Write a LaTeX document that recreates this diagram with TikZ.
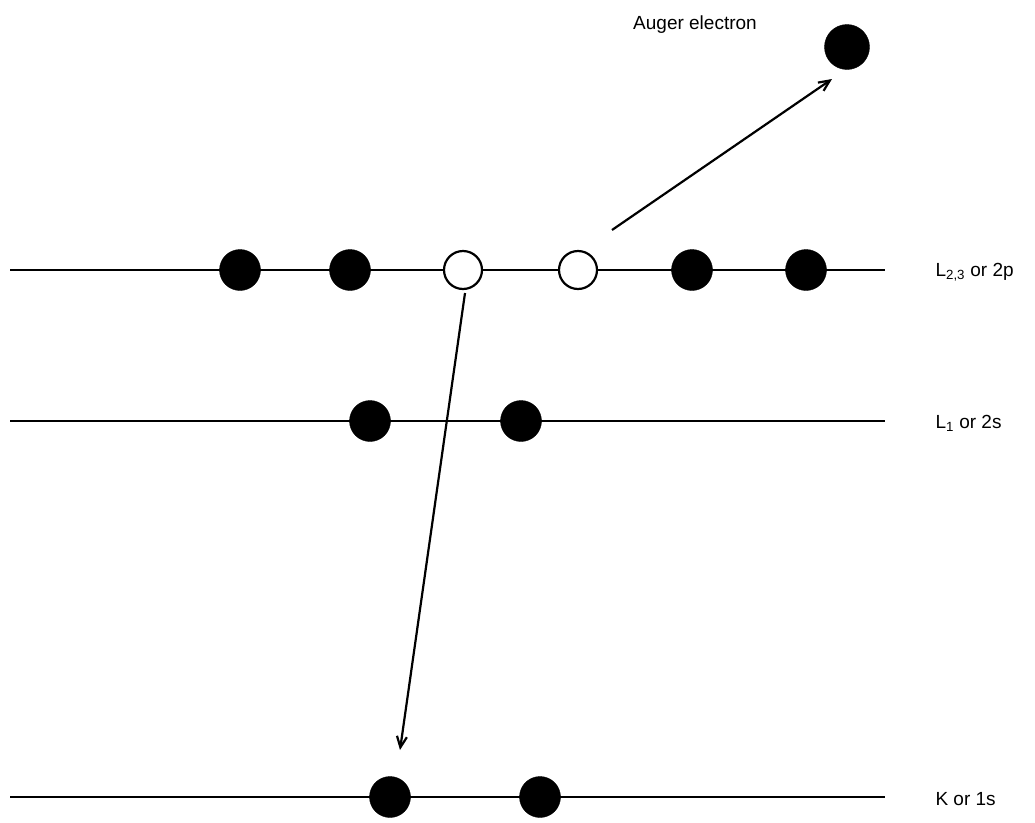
\documentclass[tikz,border=0pt]{standalone}
\usepackage{fontspec}
\setmainfont{Liberation Sans}
\usetikzlibrary{arrows.meta}
\begin{document}
\begin{tikzpicture}[x=1pt,y=-1pt,
  level/.style={line width=2.4pt},
  filled/.style={circle,fill=black,draw=black,minimum size=41pt,inner sep=0pt},
  hole/.style={circle,fill=white,draw=black,line width=2.2pt,minimum size=38pt,inner sep=0pt},
  lbl/.style={anchor=west,font=\fontsize{19}{22}\selectfont},
  arr/.style={line width=2.2pt,-{Straight Barb[length=11pt,width=10pt]}}]
\useasboundingbox (0,0) rectangle (1035,822);
% levels
\coordinate (a1) at (10,270); \coordinate (a2) at (885,270);
\coordinate (b1) at (10,421); \coordinate (b2) at (885,421);
\coordinate (c1) at (10,797); \coordinate (c2) at (885,797);
\draw[level] (a1) -- (a2);
\draw[level] (b1) -- (b2);
\draw[level] (c1) -- (c2);
% L2,3 electrons
\node[filled] (p1) at (240,270) {};
\node[filled] (p2) at (350,270) {};
\node[hole] (p3) at (463,270) {};
\node[hole] (p4) at (578,270) {};
\node[filled] (p5) at (692,270) {};
\node[filled] (p6) at (806,270) {};
% L1 electrons
\node[filled] (s1) at (370,421) {};
\node[filled] (s2) at (521,421) {};
% K electrons
\node[filled] (k1) at (390,797) {};
\node[filled] (k2) at (540,797) {};
% Auger
\node[filled,minimum size=45pt] (au) at (847,47) {};
\node[font=\fontsize{19}{22}\selectfont] (aul) at (695,25) {Auger electron};
% arrows
\coordinate (t1) at (612,230);
\coordinate (t2) at (832,79);
\draw[arr] (t1) -- (t2);
\coordinate (d1) at (465,293);
\coordinate (d2) at (400,750);
\draw[arr] (d1) -- (d2);
% labels
\node[lbl] (la) at (932,272) {L\textsubscript{2,3} or 2p};
\node[lbl] (lb) at (932,423) {L\textsubscript{1} or 2s};
\node[lbl] (lc) at (932,799) {K or 1s};
\end{tikzpicture}
\end{document}
